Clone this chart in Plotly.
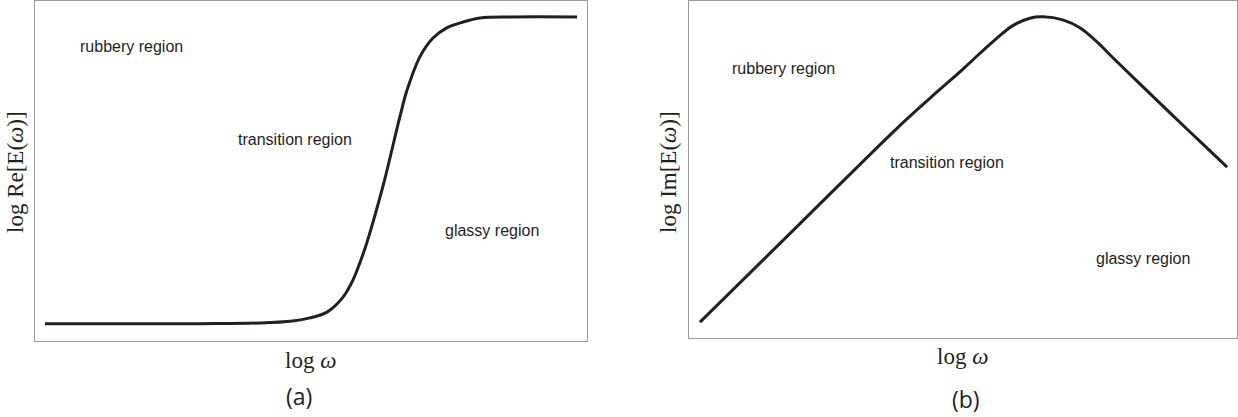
import plotly.graph_objects as go

W, H = 1238, 417

# Panel (a): log Re[E(w)] vs log w (arbitrary units 0..10)
re_x = [0.18, 2.99, 4.08, 4.67, 4.98, 5.29, 5.58, 5.76, 5.89, 6.01, 6.30, 6.61, 6.74, 6.97,
        7.21, 7.46, 7.75, 8.06, 8.66, 9.82]
re_y = [0.51, 0.51, 0.53, 0.59, 0.68, 0.85, 1.29, 1.79, 2.32, 2.88, 4.53, 6.59, 7.38, 8.35,
        8.91, 9.21, 9.38, 9.50, 9.53, 9.53]

# Panel (b): log Im[E(w)] vs log w
im_x = [0.20, 2.03, 3.80, 4.40, 5.00, 5.31, 5.62, 5.91, 6.22, 6.46, 6.82, 7.14, 7.45, 7.74,
        8.19, 8.83, 9.32, 9.82]
im_y = [0.47, 3.40, 6.23, 7.12, 7.98, 8.45, 8.90, 9.27, 9.49, 9.53, 9.44, 9.20, 8.78, 8.31,
        7.60, 6.60, 5.84, 5.07]

region_labels = ["rubbery region", "transition region", "glassy region"]
labels_a_x = [1.74, 4.71, 8.28]
labels_a_y = [8.65, 5.94, 3.24]
labels_b_x = [1.73, 4.71, 8.28]
labels_b_y = [8.01, 5.22, 2.37]

LINE = "#231f20"
BOX = "#9a9a9a"
TXT = "#231f20"

fig = go.Figure()
fig.add_trace(go.Scatter(x=re_x, y=re_y, mode="lines", xaxis="x", yaxis="y",
                         line=dict(color=LINE, width=3, shape="spline", smoothing=1.0),
                         showlegend=False, hoverinfo="skip"))
fig.add_trace(go.Scatter(x=im_x, y=im_y, mode="lines", xaxis="x2", yaxis="y2",
                         line=dict(color=LINE, width=3, shape="spline", smoothing=1.0),
                         showlegend=False, hoverinfo="skip"))

def px_dom_x(a, b):
    return [a / W, b / W]

def px_dom_y(top, bottom):
    return [1 - bottom / H, 1 - top / H]

axis_common = dict(showgrid=False, zeroline=False, showticklabels=False, ticks="",
                   showline=True, linecolor=BOX, linewidth=1, mirror=True, fixedrange=True)

fig.update_layout(
    width=W, height=H, margin=dict(l=0, r=0, t=0, b=0),
    paper_bgcolor="white", plot_bgcolor="white",
    xaxis=dict(domain=px_dom_x(35, 587), range=[0, 10], anchor="y", **axis_common),
    yaxis=dict(domain=px_dom_y(1, 341), range=[0, 10], anchor="x", **axis_common),
    xaxis2=dict(domain=px_dom_x(689, 1237), range=[0, 10], anchor="y2", **axis_common),
    yaxis2=dict(domain=px_dom_y(1, 338), range=[0, 10], anchor="x2", **axis_common),
)

sans = dict(family="Liberation Sans, Arial, sans-serif", size=16, color=TXT)
for t, x, y in zip(region_labels, labels_a_x, labels_a_y):
    fig.add_annotation(x=x, y=y, xref="x", yref="y", text=t, showarrow=False, font=sans,
                       xanchor="center", yanchor="middle")
for t, x, y in zip(region_labels, labels_b_x, labels_b_y):
    fig.add_annotation(x=x, y=y, xref="x2", yref="y2", text=t, showarrow=False, font=sans,
                       xanchor="center", yanchor="middle")

serif = dict(family="Liberation Serif, Times New Roman, serif", size=23, color=TXT)

def paper_text(px, py, text, font, angle=0):
    fig.add_annotation(x=px / W, y=1 - py / H, xref="paper", yref="paper", text=text,
                       showarrow=False, font=font, textangle=angle,
                       xanchor="center", yanchor="middle")

paper_text(15, 172, "log Re[E(<i>ω</i>)]", serif, -90)
paper_text(668, 172, "log Im[E(<i>ω</i>)]", serif, -90)
paper_text(310, 360, "log <i>ω</i>", serif)
paper_text(962, 356, "log <i>ω</i>", serif)

lab = dict(family="Open Sans, Noto Sans, sans-serif", size=23, color=TXT)
paper_text(299, 396, "(a)", lab)
paper_text(966, 399, "(b)", lab)

fig.write_html("out.html")
